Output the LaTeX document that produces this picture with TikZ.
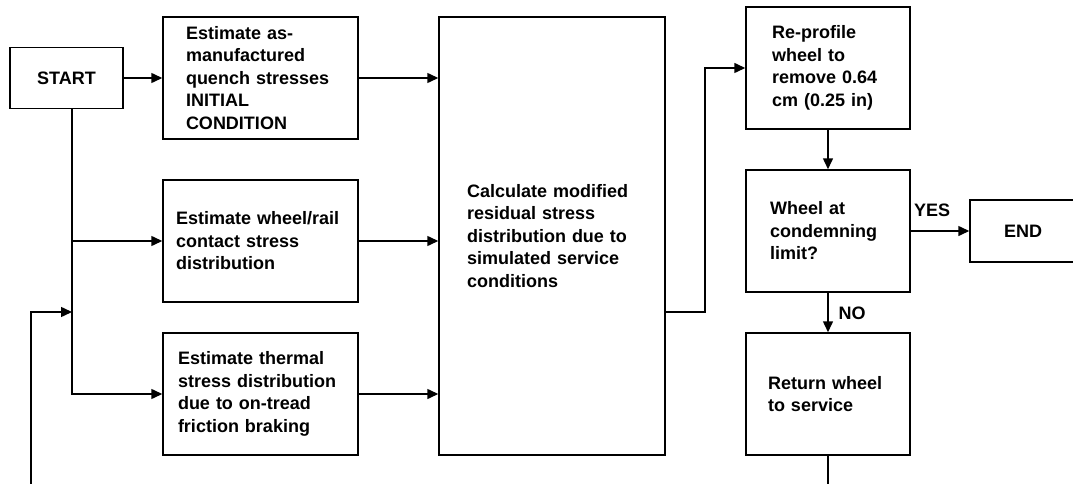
\documentclass[tikz,border=0pt]{standalone}
\usepackage{fontspec}
\setmainfont{Liberation Sans}
\usetikzlibrary{arrows.meta}
\begin{document}
\begin{tikzpicture}[x=1pt,y=-1pt,
  font=\fontsize{18}{22.5}\selectfont\bfseries,
  box/.style={draw,line width=1.5pt,inner ysep=0pt,align=left,anchor=center},
  arr/.style={line width=1.5pt,-{Triangle[length=11pt,width=10pt]}},
  conn/.style={line width=1.5pt}]
\fill[white] (0,0) rectangle (1073,484);
\useasboundingbox (0,0) rectangle (1073,484);
\clip (0,0) rectangle (1073,484);
% nodes
\node[box,minimum width=113pt,minimum height=61pt,align=center] (start) at (66.5,78) {START};
\node[box,text width=149pt,inner xsep=23pt,minimum height=122pt] (q) at (260.5,78)
  {Estimate as-\\manufactured\\quench stresses\\INITIAL\\CONDITION};
\node[box,text width=169pt,inner xsep=13pt,minimum height=122pt] (c) at (260.5,241)
  {Estimate wheel/rail\\contact stress\\distribution};
\node[box,text width=165pt,inner xsep=15pt,minimum height=122pt] (t) at (260.5,394)
  {Estimate thermal\\stress distribution\\due to on-tread\\friction braking};
\node[box,text width=170pt,inner xsep=28pt,minimum height=438pt] (calc) at (552,236)
  {Calculate modified\\residual stress\\distribution due to\\simulated service\\conditions};
\node[box,text width=112pt,inner xsep=26pt,minimum height=122pt] (rp) at (828,68)
  {Re-profile\\wheel to\\remove 0.64\\cm (0.25 in)};
\node[box,text width=116pt,inner xsep=24pt,minimum height=122pt] (wl) at (828,231)
  {Wheel at\\condemning\\limit?};
\node[box,text width=120pt,inner xsep=22pt,minimum height=122pt] (ret) at (828,394)
  {Return wheel\\to service};
\node[box,minimum width=106pt,minimum height=62pt,align=center] (endn) at (1023,231) {END};
% coordinates
\coordinate (trtop) at (72,108.5);
\coordinate (fb) at (72,312);
\coordinate (calcout) at (665,312);
% connectors
\draw[arr] (start.east) -- (q.west);
\draw[conn] (trtop) -- (72,394);
\draw[arr] (trtop) |- (c.west);
\draw[arr] (trtop) |- (t.west);
\draw[arr] (ret.south) -- (828,500) -| (31,312) -- (fb);
\draw[arr] (q.east) -- (q.east -| calc.west);
\draw[arr] (c.east) -- (c.east -| calc.west);
\draw[arr] (t.east) -- (t.east -| calc.west);
\draw[arr] (calcout) -- (705,312) |- (rp.west);
\draw[arr] (rp.south) -- (wl.north);
\draw[arr] (wl.east) -- (endn.west);
\draw[arr] (wl.south) -- (ret.north);
\node (yes) at (932,210) {YES};
\node (no) at (852,313) {NO};
\end{tikzpicture}
\end{document}
